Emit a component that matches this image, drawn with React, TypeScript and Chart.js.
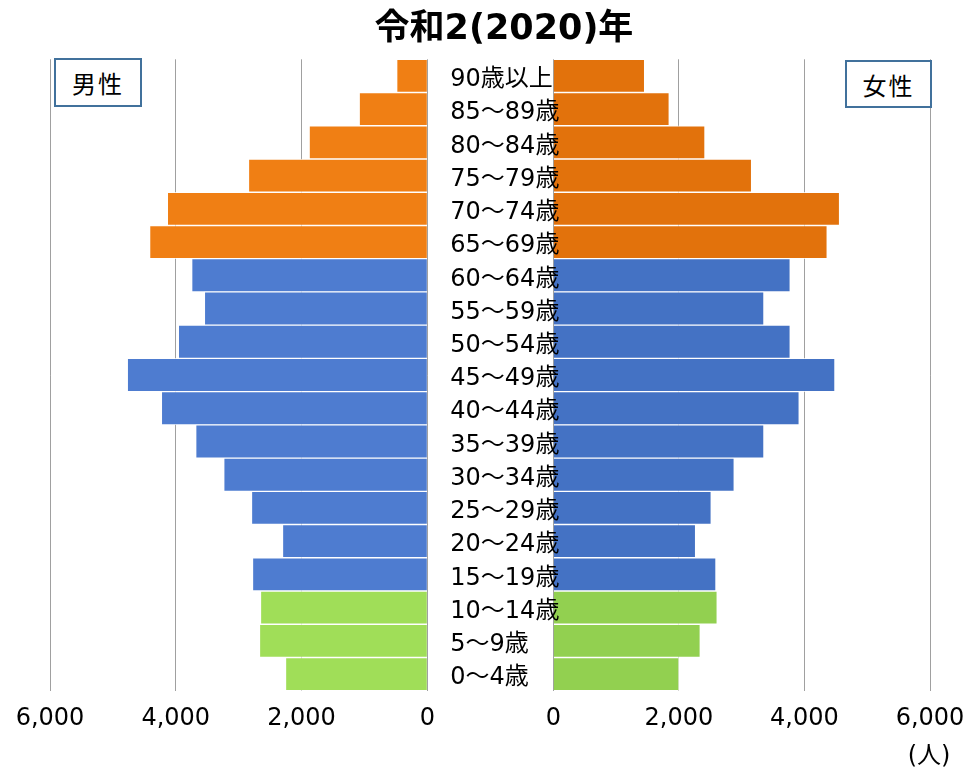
import React, { useEffect, useRef } from 'react';
import { Chart, registerables } from 'chart.js';

Chart.register(...registerables);

const ageGroups = [
  '90歳以上', '85～89歳', '80～84歳', '75～79歳', '70～74歳', '65～69歳',
  '60～64歳', '55～59歳', '50～54歳', '45～49歳', '40～44歳', '35～39歳',
  '30～34歳', '25～29歳', '20～24歳', '15～19歳', '10～14歳', '5～9歳', '0～4歳',
];
const maleValues = [487, 1083, 1879, 2844, 4134, 4416, 3747, 3545, 3959, 4771, 4229, 3683, 3237, 2796, 2303, 2780, 2653, 2669, 2255];
const femaleValues = [1455, 1847, 2416, 3159, 4560, 4363, 3774, 3355, 3774, 4486, 3917, 3355, 2882, 2516, 2267, 2591, 2611, 2341, 2002];
const ageBands = [
  'old', 'old', 'old', 'old', 'old', 'old',
  'work', 'work', 'work', 'work', 'work', 'work', 'work', 'work', 'work', 'work',
  'young', 'young', 'young',
];
const maleColors: Record<string, string> = { old: '#F07F14', work: '#4E7CD0', young: '#A0DE58' };
const femaleColors: Record<string, string> = { old: '#E2720C', work: '#4472C4', young: '#92D050' };
const xTicks = [0, 2000, 4000, 6000];
const titleText = '令和2(2020)年';
const maleLabel = '男性';
const femaleLabel = '女性';
const unitLabel = '(人)';

const FAMILY = '"DejaVu Sans", "Noto Sans CJK JP", sans-serif';
const W = 969;
const H = 774;

const ageLabelPlugin = {
  id: 'ageLabels',
  afterDatasetsDraw(chart: any) {
    const y = chart.scales.y;
    const ctx = chart.ctx;
    ctx.save();
    ctx.font = '24px ' + FAMILY;
    ctx.fillStyle = '#000';
    ctx.textAlign = 'left';
    ctx.textBaseline = 'middle';
    ageGroups.forEach((lab, i) => {
      ctx.fillText(lab, chart.chartArea.left - 103, y.getPixelForValue(i) + 4);
    });
    ctx.restore();
  },
};

function makeConfig(side: 'male' | 'female'): any {
  const isMale = side === 'male';
  const values = isMale ? maleValues : femaleValues;
  const palette = isMale ? maleColors : femaleColors;
  return {
    type: 'bar',
    data: {
      labels: ageGroups,
      datasets: [
        {
          data: values,
          backgroundColor: ageBands.map((b) => palette[b]),
          borderColor: 'rgba(255,255,255,0.75)',
          borderWidth: 1,
          barPercentage: 1,
          categoryPercentage: 1,
        },
      ],
    },
    plugins: isMale ? [] : [ageLabelPlugin],
    options: {
      animation: false,
      responsive: false,
      indexAxis: 'y',
      layout: {
        padding: isMale
          ? { left: 50, right: W - 427.3, top: 59.3, bottom: 43.3 }
          : { left: 553.3, right: W - 930, top: 59.3, bottom: 43.3 },
      },
      plugins: {
        legend: { display: false },
        tooltip: { enabled: false },
        title: { display: false },
      },
      scales: {
        x: {
          min: 0,
          max: 6000,
          reverse: isMale,
          afterBuildTicks: (s: any) => {
            s.ticks = xTicks.map((v) => ({ value: v }));
          },
          afterFit: (s: any) => {
            s.height = 40;
          },
          grid: { color: '#a0a0a0', lineWidth: 1, drawTicks: false },
          border: { display: false },
          ticks: {
            font: { size: 24, family: FAMILY, lineHeight: 2.1 },
            color: '#000',
            padding: 3,
            maxRotation: 0,
            autoSkip: false,
          },
        },
        y: { display: false },
      },
    },
  };
}

export default function App() {
  const leftRef = useRef<HTMLCanvasElement>(null);
  const rightRef = useRef<HTMLCanvasElement>(null);

  useEffect(() => {
    const l = new Chart(leftRef.current as HTMLCanvasElement, makeConfig('male'));
    const r = new Chart(rightRef.current as HTMLCanvasElement, makeConfig('female'));
    return () => {
      l.destroy();
      r.destroy();
    };
  }, []);

  const boxStyle: React.CSSProperties = {
    position: 'absolute',
    boxSizing: 'border-box',
    border: '2.5px solid #41719C',
    background: '#fff',
    display: 'flex',
    alignItems: 'center',
    justifyContent: 'center',
    fontSize: 24,
    letterSpacing: 2,
    color: '#000',
    fontFamily: '"Noto Sans CJK JP", sans-serif',
  };

  return (
    <div style={{ position: 'absolute', left: 0, top: 0, width: W, height: H, background: '#fff', fontFamily: FAMILY }}>
      <canvas ref={leftRef} width={W} height={H} style={{ position: 'absolute', left: 0, top: 0 }} />
      <canvas ref={rightRef} width={W} height={H} style={{ position: 'absolute', left: 0, top: 0 }} />
      <div
        style={{
          position: 'absolute',
          left: 504,
          top: 9,
          transform: 'translateX(-50%)',
          whiteSpace: 'nowrap',
          fontSize: 35,
          lineHeight: '36px',
          fontWeight: 'bold',
          color: '#000',
        }}
      >
        {titleText}
      </div>
      <div style={{ ...boxStyle, left: 54, top: 58, width: 88, height: 49 }}>{maleLabel}</div>
      <div style={{ ...boxStyle, left: 845, top: 60, width: 87, height: 48 }}>{femaleLabel}</div>
      <div
        style={{
          position: 'absolute',
          left: 929,
          top: 742,
          transform: 'translateX(-50%)',
          whiteSpace: 'nowrap',
          fontSize: 24,
          lineHeight: '26px',
          color: '#000',
        }}
      >
        {unitLabel}
      </div>
    </div>
  );
}
